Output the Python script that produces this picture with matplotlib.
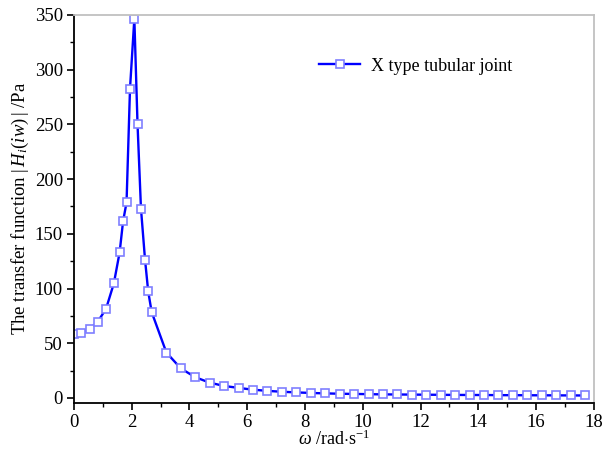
import numpy as np
import matplotlib
matplotlib.use("Agg")
import matplotlib.pyplot as plt
from matplotlib.ticker import MultipleLocator

plt.rcParams['font.family'] = ['Liberation Serif', 'DejaVu Serif']
plt.rcParams['mathtext.fontset'] = 'custom'
plt.rcParams['mathtext.rm'] = 'Liberation Serif'
plt.rcParams['mathtext.it'] = 'Liberation Serif:italic'

omega = [0.0, 0.25, 0.54, 0.82, 1.11, 1.38, 1.58, 1.70, 1.82, 1.94, 2.09,
         2.20, 2.32, 2.46, 2.57, 2.69,
         3.2, 3.7, 4.2, 4.7, 5.2, 5.7, 6.2, 6.7, 7.2, 7.7, 8.2, 8.7, 9.2, 9.7,
         10.2, 10.7, 11.2, 11.7, 12.2, 12.7, 13.2, 13.7, 14.2, 14.7, 15.2,
         15.7, 16.2, 16.7, 17.2, 17.7]
H = [58.4, 59.8, 62.9, 69.6, 81.5, 104.7, 133, 161.5, 178.7, 282.8, 346.6,
     250.4, 172.9, 126.4, 97.4, 78.5,
     41.5, 27.0, 19.0, 14.0, 11.0, 9.2, 7.6, 6.5, 5.7, 5.1, 4.6, 4.2, 3.9, 3.7,
     3.5, 3.3, 3.2, 3.1, 3.0, 2.9, 2.8, 2.75, 2.7, 2.6, 2.55,
     2.5, 2.45, 2.4, 2.35, 2.3]
label = "X type tubular joint"

fig = plt.figure(figsize=(6.03, 4.54), dpi=100)
ax = fig.add_axes([0.1227, 0.113, 0.862, 0.854])

ax.plot(omega, H, color='#0000ff', lw=1.7, marker='s', ms=6.3,
        mfc='white', mec='#7f7fff', mew=1.2, label=label)

ax.set_xlim(0, 18)
ax.set_ylim(-4.3, 350)
ax.xaxis.set_major_locator(MultipleLocator(2))
ax.xaxis.set_minor_locator(MultipleLocator(1))
ax.yaxis.set_major_locator(MultipleLocator(50))
ax.yaxis.set_minor_locator(MultipleLocator(25))
ax.tick_params(which='major', direction='out', length=5, width=1.2, labelsize=13.5, pad=3)
ax.tick_params(which='minor', direction='out', length=3, width=1.0)
for s in ['left', 'bottom']:
    ax.spines[s].set_linewidth(1.3)
for s in ['top', 'right']:
    ax.spines[s].set_color('#c0c0c0')
    ax.spines[s].set_linewidth(1.3)

ax.set_xlabel(r"$\omega$ /rad$\cdot$s$^{-1}$", fontsize=13, labelpad=-1)
ax.set_ylabel(r"The transfer function $|\,H_i(iw)\,|$ /Pa", fontsize=13.5, labelpad=3)

ax.legend(loc='center left', bbox_to_anchor=(0.44, 0.868), frameon=False,
          fontsize=13, handlelength=2.3, handletextpad=0.6)

fig.savefig("out.png", dpi=100)
